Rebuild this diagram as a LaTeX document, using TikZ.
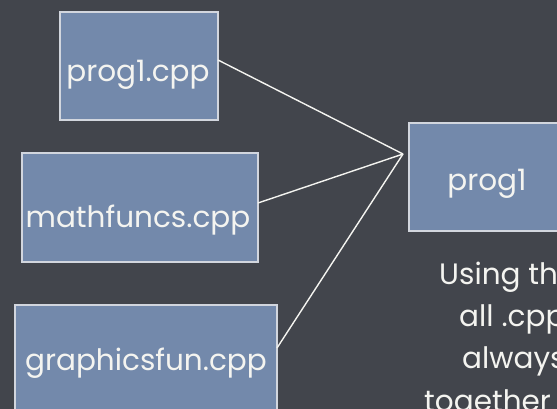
\documentclass[tikz,border=0pt]{standalone}
\usepackage{fontspec}
\setmainfont{Poppins}
\definecolor{board}{HTML}{42454C}
\definecolor{cardfill}{HTML}{7389AB}
\definecolor{cardedge}{HTML}{D2D6DE}
\definecolor{chalk}{HTML}{F4F4F0}
\tikzset{
  card/.style={draw=cardedge, line width=1.6pt, fill=cardfill},
  cardtext/.style={text=chalk, font=\fontsize{29.5}{34}\selectfont, inner sep=0pt, anchor=base},
  note/.style={text=chalk, font=\fontsize{29.5}{34}\selectfont, inner sep=0pt, anchor=base west},
  wire/.style={draw=chalk, line width=1.4pt}
}
\begin{document}
\begin{tikzpicture}[x=1pt,y=-1pt]
\useasboundingbox (0,0) rectangle (557,409);
\clip (0,0) rectangle (557,409);
\fill[board] (0,0) rectangle (557,409);

% source files
\draw[card] (60,12) rectangle (218,120);
\node[cardtext] (src1) at (138,82) {prog1.cpp};
\draw[card] (22,153) rectangle (258,262);
\node[cardtext] (src2) at (138,227) {mathfuncs.cpp};
\draw[card] (15,305) rectangle (277,420);
\node[cardtext] (src3) at (146,370) {graphicsfun.cpp};

% executable
\draw[card] (409,123) rectangle (580,231);
\node[cardtext] (exe) at (487,190) {prog1};

% links into the executable
\coordinate (join) at (403,154);
\coordinate (e1) at (218,60);
\coordinate (e2) at (258,203);
\coordinate (e3) at (277,348);
\draw[wire] (e1) -- (join);
\draw[wire] (e2) -- (join);
\draw[wire] (e3) -- (join);

% note below
\node[note] (n1) at (439,284) {Using th};
\node[note] (n2) at (459,326) {all .cpp};
\node[note] (n3) at (462,368) {always};
\node[note] (n4) at (424,411) {together};
\end{tikzpicture}
\end{document}
